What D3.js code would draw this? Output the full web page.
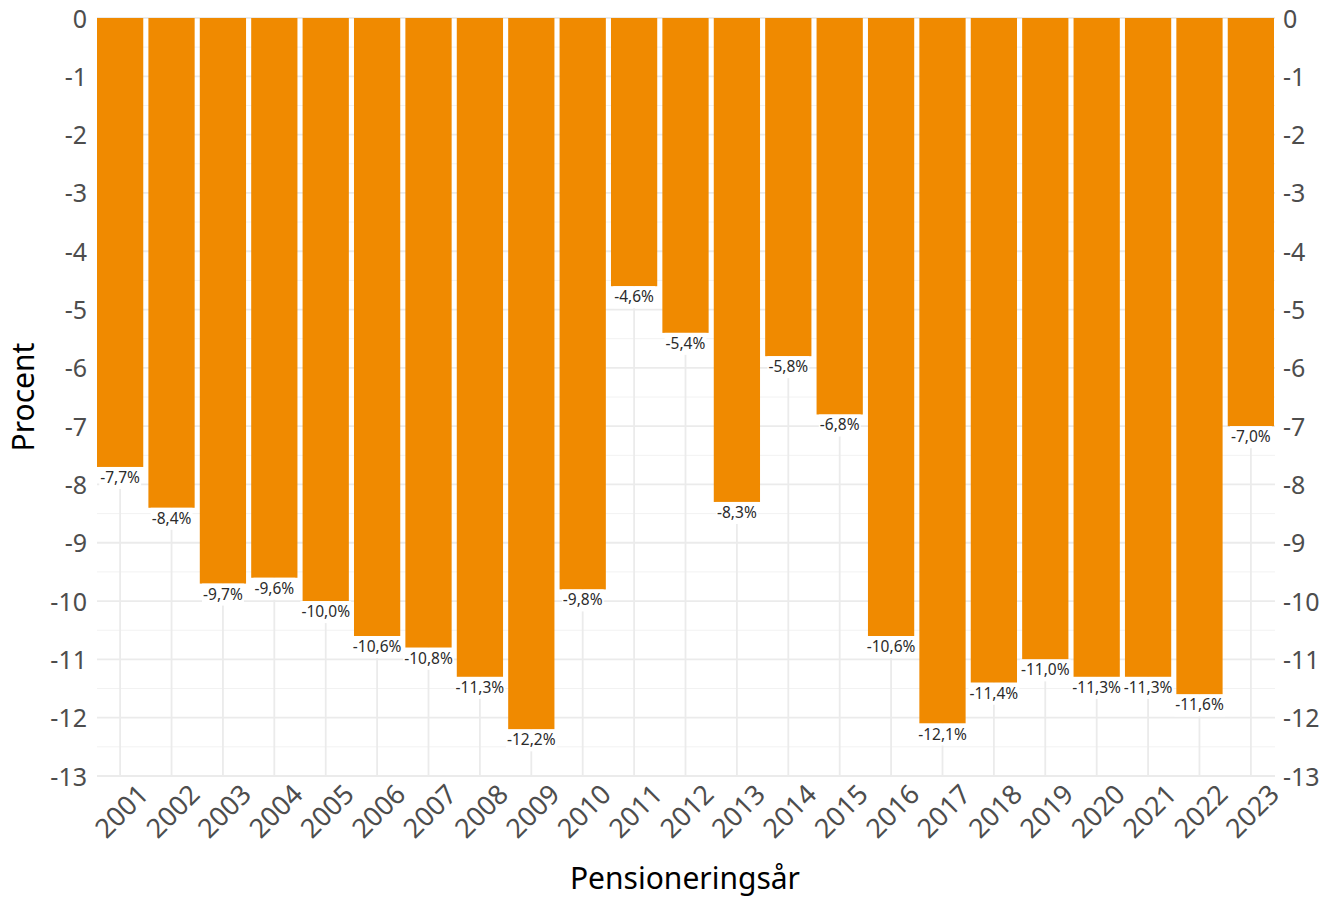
<!DOCTYPE html>
<html lang="da">
<head>
<meta charset="UTF-8">
<title>Pensioneringsår</title>
<script src="https://d3js.org/d3.v7.min.js"></script>
<style>
    body { margin: 0; background: #fff; }
    text { font-family: "Noto Sans", "Open Sans", sans-serif; }
    .grid-major { stroke: #ebebeb; stroke-width: 1.8px; }
    .grid-minor { stroke: #f2f2f2; stroke-width: 1px; }
    .tick-label { fill: #4d4d4d; font-size: 25px; }
    .x-label { font-size: 27px; }
    .bar-label { fill: #2b2b2b; font-size: 15.5px; }
    .title { fill: #000; font-size: 30px; }
</style>
</head>
<body>
<svg width="1335" height="898"></svg>
<script>
    // data
    const years = ["2001","2002","2003","2004","2005","2006","2007","2008","2009","2010","2011","2012",
                   "2013","2014","2015","2016","2017","2018","2019","2020","2021","2022","2023"];
    const values = [-7.7, -8.4, -9.7, -9.6, -10.0, -10.6, -10.8, -11.3, -12.2, -9.8, -4.6, -5.4,
                    -8.3, -5.8, -6.8, -10.6, -12.1, -11.4, -11.0, -11.3, -11.3, -11.6, -7.0];
    const yTicks = [0, -1, -2, -3, -4, -5, -6, -7, -8, -9, -10, -11, -12, -13];

    const data = years.map(function (y, i) { return {year: y, value: values[i]}; });

    const svg = d3.select('svg');
    const pLeft = 97, pRight = 1275, pTop = 18, pBottom = 776;

    const x = d3.scaleBand().domain(years).range([pLeft, pRight - 1]).paddingInner(0.1).paddingOuter(0);
    const y = d3.scaleLinear().domain([0, -13]).range([pTop, pBottom]);

    // grid
    const minor = d3.range(0, -13, -1).map(function (d) { return d - 0.5; });
    svg.append('g').selectAll('line').data(minor).join('line')
        .attr('class', 'grid-minor')
        .attr('x1', pLeft).attr('x2', pRight)
        .attr('y1', d => y(d)).attr('y2', d => y(d));
    svg.append('g').selectAll('line').data(yTicks).join('line')
        .attr('class', 'grid-major')
        .attr('x1', pLeft).attr('x2', pRight)
        .attr('y1', d => y(d)).attr('y2', d => y(d));
    svg.append('g').selectAll('line').data(years).join('line')
        .attr('class', 'grid-major')
        .attr('x1', d => x(d) + x.bandwidth() / 2).attr('x2', d => x(d) + x.bandwidth() / 2)
        .attr('y1', pTop).attr('y2', pBottom);

    // bars
    svg.append('g').selectAll('rect').data(data).join('rect')
        .attr('x', d => x(d.year))
        .attr('width', x.bandwidth())
        .attr('y', y(0))
        .attr('height', d => y(d.value) - y(0))
        .attr('fill', '#f08a00');

    // labels with white background
    const fmt = function (v) { return v.toFixed(1).replace('.', ',') + '%'; };
    const lab = svg.append('g').selectAll('g').data(data).join('g');
    lab.append('text')
        .attr('class', 'bar-label')
        .attr('text-anchor', 'middle')
        .attr('x', d => x(d.year) + x.bandwidth() / 2)
        .attr('y', d => y(d.value) + 16)
        .text(d => fmt(d.value));
    lab.each(function () {
        const g = d3.select(this);
        const b = g.select('text').node().getBBox();
        g.insert('rect', 'text')
            .attr('x', b.x - 1).attr('y', b.y + 1)
            .attr('width', b.width + 2).attr('height', b.height)
            .attr('fill', '#fff');
    });

    // y axes both sides
    const tf = d => d === 0 ? '0' : '-' + Math.abs(d);
    const yl = svg.append('g').attr('transform', 'translate(' + (pLeft - 10) + ',0)')
        .call(d3.axisLeft(y).tickValues(yTicks).tickSize(0).tickPadding(0).tickFormat(tf));
    const yr = svg.append('g').attr('transform', 'translate(' + (pRight + 8) + ',0)')
        .call(d3.axisRight(y).tickValues(yTicks).tickSize(0).tickPadding(0).tickFormat(tf));
    [yl, yr].forEach(function (a) {
        a.attr('font-size', null).attr('font-family', null);
        a.select('.domain').remove();
        a.selectAll('text').attr('class', 'tick-label').attr('dy', '0.36em');
    });

    // x axis
    const xa = svg.append('g').attr('transform', 'translate(0,' + pBottom + ')')
        .call(d3.axisBottom(x).tickSize(0));
    xa.attr('font-size', null).attr('font-family', null);
    xa.select('.domain').remove();
    xa.selectAll('text')
        .attr('class', 'tick-label x-label')
        .attr('text-anchor', 'end')
        .attr('dy', null).attr('y', 0)
        .attr('transform', 'translate(30,20) rotate(-45)');

    // titles
    svg.append('text').attr('class', 'title')
        .attr('text-anchor', 'middle')
        .attr('x', (pLeft + pRight) / 2 - 1).attr('y', 889)
        .text('Pensioneringsår');
    svg.append('text').attr('class', 'title')
        .attr('text-anchor', 'middle')
        .attr('transform', 'translate(34,' + ((pTop + pBottom) / 2) + ') rotate(-90)')
        .text('Procent');
</script>
</body>
</html>
